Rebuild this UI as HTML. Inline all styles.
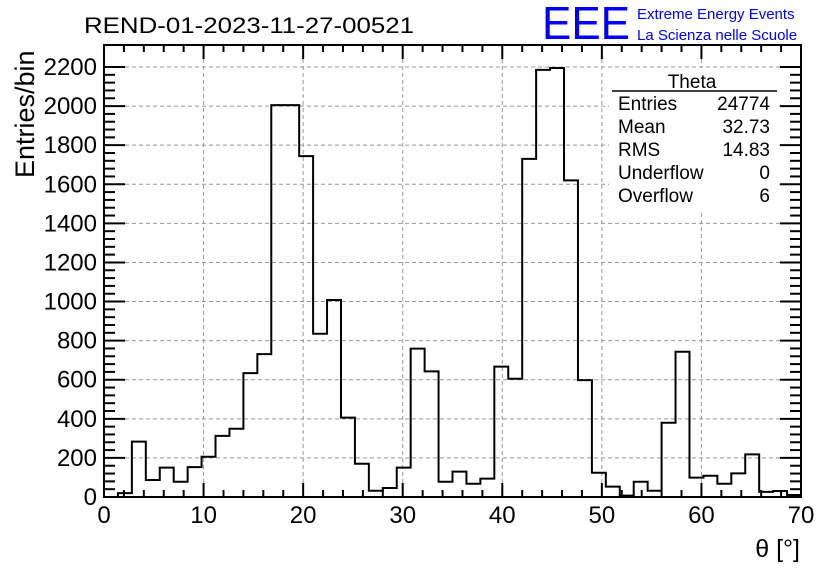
<!DOCTYPE html>
<html><head><meta charset="utf-8"><style>
body{margin:0;background:#fff;}
svg{display:block;font-family:"Liberation Sans",sans-serif;}
</style></head><body>
<svg id="c" width="836" height="572">
<g id="grid"></g>
<g id="bars"></g>
<g id="axes"></g>
<text x="84" y="33" font-size="22" textLength="330" lengthAdjust="spacingAndGlyphs">REND-01-2023-11-27-00521</text>
<text x="542" y="39" font-size="46" fill="#0000ff" textLength="88" lengthAdjust="spacingAndGlyphs">EEE</text>
<text x="637" y="19" font-size="15" fill="#0000ff">Extreme Energy Events</text>
<text x="637" y="40" font-size="15" fill="#0000ff">La Scienza nelle Scuole</text>
<g font-size="19">
<rect x="609" y="68" width="170" height="142" fill="#fff"/>
<text x="692" y="88" text-anchor="middle">Theta</text>
<line x1="612" y1="91" x2="777" y2="91" stroke="#000" stroke-width="1.5"/>
<text x="618" y="110">Entries</text><text x="770" y="110" text-anchor="end">24774</text>
<text x="618" y="133">Mean</text><text x="770" y="133" text-anchor="end">32.73</text>
<text x="618" y="156">RMS</text><text x="770" y="156" text-anchor="end">14.83</text>
<text x="618" y="179">Underflow</text><text x="770" y="179" text-anchor="end">0</text>
<text x="618" y="202">Overflow</text><text x="770" y="202" text-anchor="end">6</text>
</g>
<text transform="translate(34,178) rotate(-90)" font-size="27" text-anchor="start">Entries/bin</text>
<text x="800" y="557" font-size="25" text-anchor="end">θ [°]</text>
</svg>
<script>
const values=[0,20,283,87,150,78,153,206,313,349,634,731,2005,2005,1744,835,1008,406,170,32,46,150,759,643,78,130,68,94,667,605,1730,2185,2195,1620,598,124,53,7,78,32,380,743,99,109,68,121,218,26,31,10];
const binWidth=1.4;
const xTicks=[0,10,20,30,40,50,60,70];
const yTicks=[0,200,400,600,800,1000,1200,1400,1600,1800,2000,2200];
const L=104,R=801,T=45,B=497;
const xs=v=>L+(v/70)*(R-L);
const ys=v=>B-v*(430/2200);
const NS="http://www.w3.org/2000/svg";
function mk(tag,a,p){const e=document.createElementNS(NS,tag);for(const k in a)e.setAttribute(k,a[k]);p.appendChild(e);return e;}
const grid=document.getElementById('grid'),bars=document.getElementById('bars'),axes=document.getElementById('axes');
xTicks.forEach(t=>{if(t>0&&t<70){const l=mk('line',{x1:xs(t),x2:xs(t),y1:T,y2:B,stroke:'#999','stroke-dasharray':'4,3'},grid);

}});
yTicks.forEach(t=>{if(t>0){const l=mk('line',{x1:L,x2:R,y1:ys(t),y2:ys(t),stroke:'#999','stroke-dasharray':'4,3'},grid);

}});
let d='M'+xs(0)+','+ys(0);
values.forEach((v,i)=>{d+=' L'+xs(i*binWidth)+','+ys(v)+' L'+xs((i+1)*binWidth)+','+ys(v);});
d+=' L'+xs(values.length*binWidth)+','+ys(0);
const p=mk('path',{d:d,fill:'none',stroke:'#000','stroke-width':2},bars);


const fr=mk('rect',{x:L,y:T,width:R-L,height:B-T,fill:'none',stroke:'#000','stroke-width':2},axes);


for(let v=0;v<=70;v+=2){const maj=v%10===0;const h=maj?14:7;
mk('line',{x1:xs(v),x2:xs(v),y1:B,y2:B-h,stroke:'#000','stroke-width':2},axes);
mk('line',{x1:xs(v),x2:xs(v),y1:T,y2:T+h,stroke:'#000','stroke-width':2},axes);}
for(let v=0;v<=2200;v+=40){const maj=v%200===0;const w=maj?21:11;
mk('line',{x1:L,x2:L+w,y1:ys(v),y2:ys(v),stroke:'#000','stroke-width':2},axes);
mk('line',{x1:R,x2:R-w,y1:ys(v),y2:ys(v),stroke:'#000','stroke-width':2},axes);}
xTicks.forEach(t=>{const e=mk('text',{x:xs(t),y:523,'font-size':24,'text-anchor':'middle'},axes);e.textContent=t;

});
yTicks.forEach(t=>{const e=mk('text',{x:97,y:ys(t)+8,'font-size':24,'text-anchor':'end'},axes);e.textContent=t;

});
</script>
</body></html>
